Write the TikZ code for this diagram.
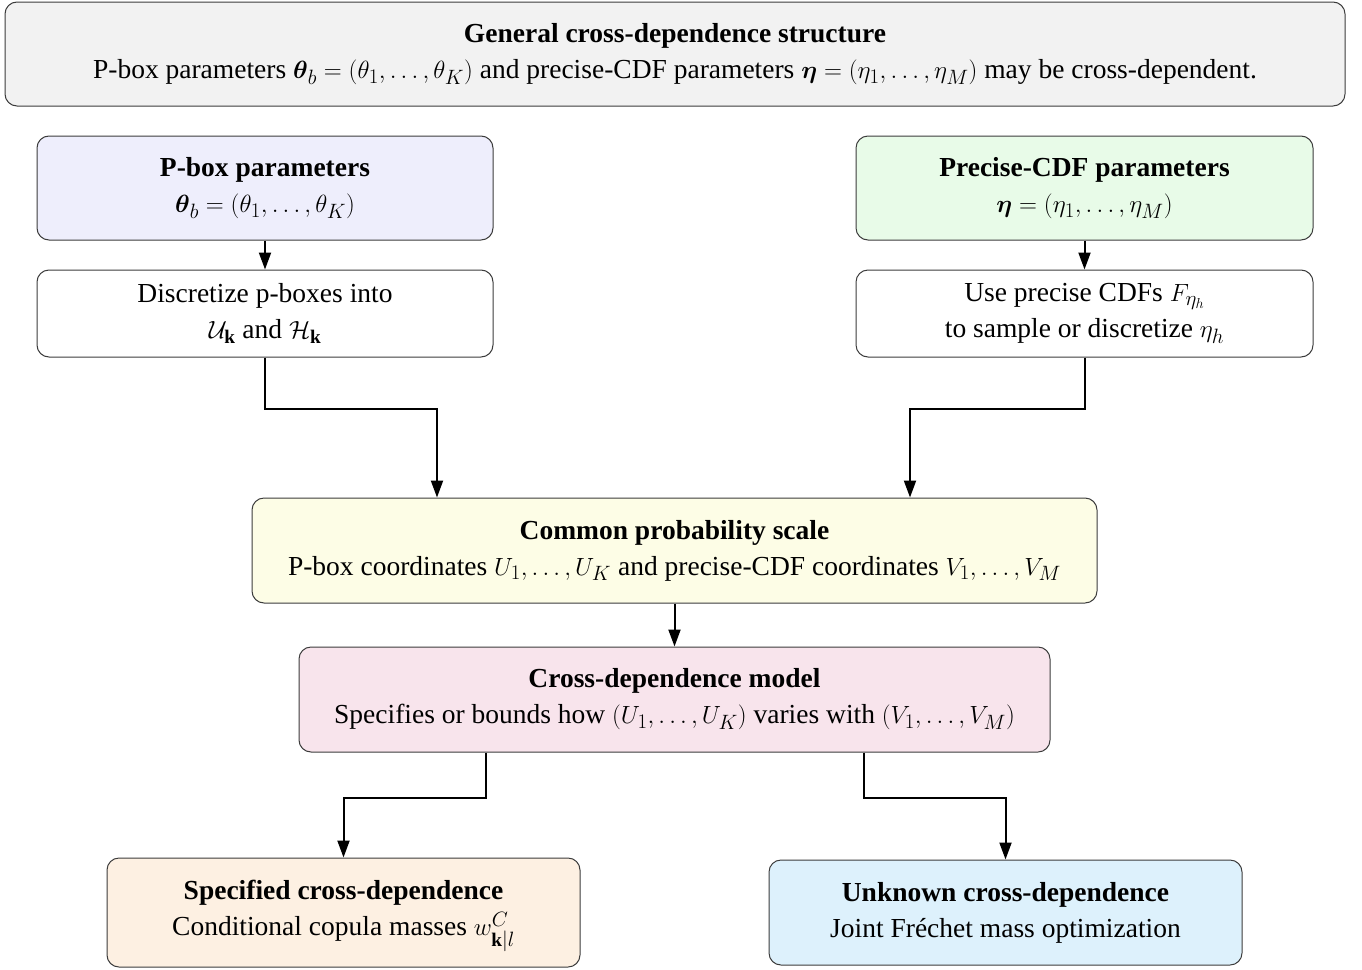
\documentclass[tikz,border=0pt]{standalone}
\usepackage{amsmath,amssymb}
\usepackage{fontspec}
\setmainfont{Liberation Serif}
\usetikzlibrary{arrows.meta,calc}

\definecolor{edgegray}{RGB}{60,60,60}
\definecolor{topfill}{RGB}{242,242,242}
\definecolor{pboxfill}{RGB}{238,238,252}
\definecolor{cdffill}{RGB}{232,251,232}
\definecolor{commonfill}{RGB}{253,253,230}
\definecolor{crossfill}{RGB}{248,228,236}
\definecolor{specfill}{RGB}{253,240,226}
\definecolor{unkfill}{RGB}{221,241,252}

\begin{document}
\begin{tikzpicture}[x=1pt,y=-1pt,
  box/.style={draw=edgegray,line width=1pt,rounded corners=12pt,align=center,
    inner sep=0pt,font=\fontsize{27.5}{36}\selectfont},
  arr/.style={draw=black,line width=2pt,-{Triangle[length=17pt,width=12pt]}}]
\useasboundingbox (0,0) rectangle (1362,969);

% header
\node[box,fill=topfill,minimum width=1340pt,minimum height=104pt] (top) at (675,54)
  {\textbf{General cross-dependence structure}\\
   P-box parameters $\boldsymbol{\theta}_b=(\theta_1,\dots,\theta_K)$ and precise-CDF parameters $\boldsymbol{\eta}=(\eta_1,\dots,\eta_M)$ may be cross-dependent.};

% left branch: p-box parameters
\node[box,fill=pboxfill,minimum width=456pt,minimum height=104pt] (pb) at (265,188)
  {\textbf{P-box parameters}\\ $\boldsymbol{\theta}_b=(\theta_1,\dots,\theta_K)$};
\node[box,fill=white,minimum width=456pt,minimum height=87pt] (disc) at (265,313.5)
  {Discretize p-boxes into\\ $\mathcal{U}_{\mathbf{k}}$ and $\mathcal{H}_{\mathbf{k}}$};

% right branch: precise-CDF parameters
\node[box,fill=cdffill,minimum width=457pt,minimum height=104pt] (pc) at (1084.5,188)
  {\textbf{Precise-CDF parameters}\\ $\boldsymbol{\eta}=(\eta_1,\dots,\eta_M)$};
\node[box,fill=white,minimum width=457pt,minimum height=87pt] (use) at (1084.5,313.5)
  {Use precise CDFs $F_{\eta_h}$\\ to sample or discretize $\eta_h$};

% common scale and dependence model
\node[box,fill=commonfill,minimum width=845pt,minimum height=105pt] (common) at (674.5,550.5)
  {\textbf{Common probability scale}\\
   P-box coordinates $U_1,\dots,U_K$ and precise-CDF coordinates $V_1,\dots,V_M$};
\node[box,fill=crossfill,minimum width=751pt,minimum height=105pt] (cross) at (674.5,699.5)
  {\textbf{Cross-dependence model}\\
   Specifies or bounds how $(U_1,\dots,U_K)$ varies with $(V_1,\dots,V_M)$};

% two cases
\node[box,fill=specfill,minimum width=473pt,minimum height=109pt] (spec) at (343.5,912.5)
  {\rule{0pt}{27pt}\textbf{Specified cross-dependence}\\ Conditional copula masses $w^{C}_{\mathbf{k}|l}$};
\node[box,fill=unkfill,minimum width=473pt,minimum height=105pt] (unk) at (1005.5,912.5)
  {\textbf{Unknown cross-dependence}\\ Joint Fréchet mass optimization};

% connectors
\draw[arr] (pb) -- (disc);
\draw[arr] (pc) -- (use);
\draw[arr] (disc.south) -- ++(0,51) -| ([xshift=-237.5pt]common.north);
\draw[arr] (use.south) -- ++(0,51) -| ([xshift=235.5pt]common.north);
\draw[arr] (common) -- (cross);
\draw[arr] ([xshift=-188.5pt]cross.south) -- ++(0,45) -| (spec.north);
\draw[arr] ([xshift=189.5pt]cross.south) -- ++(0,45) -| (unk.north);
\end{tikzpicture}
\end{document}
